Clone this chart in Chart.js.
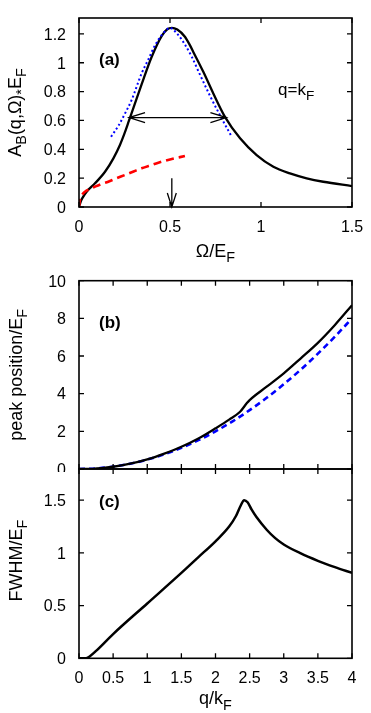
<!DOCTYPE html>
<html><head><meta charset="utf-8">
<script src="https://cdn.jsdelivr.net/npm/chart.js@4.4.0/dist/chart.umd.min.js"></script>
<style>
html,body{margin:0;padding:0;background:#fff;}
#wrap{position:relative;width:371px;height:713px;overflow:hidden;background:#fff;}
canvas{position:absolute;left:0;}
</style></head><body>
<div id="wrap">
<canvas id="ca" style="top:0px;width:371px;height:262px" width="371" height="262"></canvas>
<canvas id="cb" style="top:262px;width:371px;height:210px" width="371" height="210"></canvas>
<canvas id="cc" style="top:462px;width:371px;height:251px" width="371" height="251"></canvas>
</div>
<script>
// ---------- Panel (a): spectral function at q = kF ----------
const omegaA    = [0,0.01,0.02,0.042,0.088,0.143,0.189,0.225,0.25,0.275,0.30,0.344,0.399,0.454,0.485,0.51,0.54,0.582,0.61,0.628,0.683,0.738,0.802,0.885,0.976,1.068,1.159,1.251,1.342,1.5];
const spectralA = [0,0.04,0.065,0.106,0.164,0.244,0.337,0.43,0.51,0.60,0.69,0.85,1.04,1.185,1.232,1.242,1.23,1.18,1.12,1.075,0.937,0.787,0.625,0.476,0.360,0.279,0.233,0.199,0.175,0.145];
const omegaFit  = [0.176,0.22,0.253,0.289,0.344,0.38,0.418,0.46,0.5,0.54,0.58,0.62,0.66,0.72,0.784,0.839];
const fitA      = [0.487,0.57,0.649,0.741,0.926,1.02,1.122,1.2,1.242,1.2,1.13,1.04,0.93,0.77,0.614,0.487];
const omegaRed  = [0,0.005,0.015,0.033,0.06,0.088,0.125,0.161,0.2,0.253,0.3,0.344,0.39,0.436,0.5,0.582];
const redA      = [0,0.05,0.08,0.106,0.125,0.141,0.16,0.175,0.196,0.222,0.246,0.268,0.288,0.307,0.33,0.353];
const halfMaxLevel  = 0.62;
const halfMaxBounds = [0.275, 0.81];
const peakMarker    = [0.51, 0.2];   // x position, top of arrow
const xTicksA = [0,0.5,1,1.5];
const xLabelsA = ['0','0.5','1','1.5'];
const yTicksA = [0,0.2,0.4,0.6,0.8,1,1.2];
const yLabelsA = ['0','0.2','0.4','0.6','0.8','1','1.2'];

// ---------- Panel (b): peak position ----------
const qPeak    = [0,0.2,0.5,0.75,1,1.25,1.5,1.75,2,2.2,2.36,2.46,2.5,2.75,3,3.25,3.5,3.75,4];
const peakPos  = [0,0.01,0.12,0.28,0.51,0.82,1.18,1.62,2.16,2.62,3.04,3.5,3.66,4.37,5.08,5.88,6.7,7.65,8.7];
const qModel   = [0,0.25,0.5,0.75,1,1.25,1.5,1.75,2,2.25,2.5,2.75,3,3.25,3.5,3.75,4];
const modelPos = [0,0.03,0.125,0.28,0.5,0.78,1.125,1.53,2,2.53,3.125,3.78,4.5,5.28,6.125,7.03,8];
const xTicksQ = [0,0.5,1,1.5,2,2.5,3,3.5,4];
const xLabelsQ = ['0','0.5','1','1.5','2','2.5','3','3.5','4'];
const yTicksB = [0,2,4,6,8,10];
const yLabelsB = ['0','2','4','6','8','10'];

// ---------- Panel (c): FWHM ----------
const qFwhm = [0,0.1,0.16,0.25,0.5,1,1.5,1.75,2,2.2,2.3,2.37,2.42,2.47,2.53,2.6,2.75,2.875,3,3.25,3.5,3.75,4];
const fwhm  = [0,0,0.02,0.07,0.23,0.52,0.81,0.96,1.11,1.25,1.35,1.45,1.5,1.48,1.41,1.34,1.22,1.14,1.08,0.995,0.925,0.865,0.81];
const yTicksC = [0,0.5,1,1.5];
const yLabelsC = ['0','0.5','1','1.5'];

const FONT = '"Liberation Sans", Arial, Helvetica, sans-serif';
const pts = (xs, ys) => xs.map((x, i) => ({x, y: ys[i]}));

function setFont(ctx, size, bold){ ctx.font = (bold ? 'bold ' : '') + size + 'px ' + FONT; }
function richWidth(ctx, parts, size){
  let w = 0;
  parts.forEach(p => { setFont(ctx, p[1]==='sub' ? size*0.8 : size, p[1]==='b'); w += ctx.measureText(p[0]).width; });
  return w;
}
function drawRich(ctx, parts, x, y, size, align){
  const w = richWidth(ctx, parts, size);
  let cx = align === 'center' ? x - w/2 : (align === 'right' ? x - w : x);
  ctx.textAlign = 'left'; ctx.textBaseline = 'alphabetic'; ctx.fillStyle = '#000';
  parts.forEach(p => {
    const sub = p[1] === 'sub';
    setFont(ctx, sub ? size*0.8 : size, p[1]==='b');
    ctx.fillText(p[0], cx, y + (sub ? size*0.3 : 0));
    cx += ctx.measureText(p[0]).width;
  });
}
function openHead(ctx, tx, ty, dx, dy, len, half){
  const nx = -dy, ny = dx;
  ctx.moveTo(tx - dx*len + nx*half, ty - dy*len + ny*half);
  ctx.lineTo(tx, ty);
  ctx.lineTo(tx - dx*len - nx*half, ty - dy*len - ny*half);
}

const deco = {
  id: 'deco',
  afterDatasetsDraw(chart, args, o) {
    const ctx = chart.ctx, a = chart.chartArea;
    const xs = chart.scales.x, ys = chart.scales.y;
    const TL = 5;
    ctx.save();
    ctx.strokeStyle = '#000';
    if (o.arrows) {
      ctx.lineWidth = 1.3;
      ctx.beginPath();
      const yh = ys.getPixelForValue(halfMaxLevel);
      const x1 = xs.getPixelForValue(halfMaxBounds[0]), x2 = xs.getPixelForValue(halfMaxBounds[1]);
      ctx.moveTo(x1, yh); ctx.lineTo(x2, yh);
      openHead(ctx, x1, yh, -1, 0, 16, 5);
      openHead(ctx, x2, yh, 1, 0, 16, 5);
      const xp = xs.getPixelForValue(peakMarker[0]);
      const yt = ys.getPixelForValue(peakMarker[1]), yb = ys.getPixelForValue(0);
      ctx.moveTo(xp, yt); ctx.lineTo(xp, yb);
      openHead(ctx, xp, yb, 0, 1, 14, 4.5);
      ctx.stroke();
    }
    ctx.lineWidth = 1.3;
    ctx.beginPath();
    o.xTicks.forEach(v => { const p = xs.getPixelForValue(v);
      ctx.moveTo(p, a.bottom); ctx.lineTo(p, a.bottom - TL);
      ctx.moveTo(p, a.top); ctx.lineTo(p, a.top + TL); });
    o.yTicks.forEach(v => { const p = ys.getPixelForValue(v);
      ctx.moveTo(a.left, p); ctx.lineTo(a.left + TL, p);
      ctx.moveTo(a.right, p); ctx.lineTo(a.right - TL, p); });
    ctx.stroke();
    ctx.lineWidth = 1.6;
    ctx.strokeRect(a.left, a.top, a.right - a.left, a.bottom - a.top);
    ctx.fillStyle = '#000';
    setFont(ctx, 16);
    ctx.textBaseline = 'alphabetic';
    ctx.textAlign = 'right';
    o.yTicks.forEach((v, i) => ctx.fillText(o.yLabels[i], a.left - 13, ys.getPixelForValue(v) + 5.8));
    if (o.xLabels) {
      ctx.textAlign = 'center';
      o.xTicks.forEach((v, i) => ctx.fillText(o.xLabels[i], xs.getPixelForValue(v), a.bottom + o.xLabelDy));
    }
    if (o.xTitle) drawRich(ctx, o.xTitle, (a.left + a.right)/2, a.bottom + o.xTitleDy, 18, 'center');
    ctx.save();
    ctx.translate(o.yTitleX, (a.top + a.bottom)/2 + (o.yTitleDy || 0));
    ctx.rotate(-Math.PI/2);
    drawRich(ctx, o.yTitle, 0, 6.5, 18, 'center');
    ctx.restore();
    drawRich(ctx, [[o.panel, 'b']], a.left + 20, a.top + o.panelDy, 17, 'left');
    if (o.note) drawRich(ctx, o.note, a.left + 199, a.top + 77, 17, 'left');
    ctx.restore();
  }
};

function make(id, datasets, xr, yr, padding, d){
  return new Chart(document.getElementById(id), {
    type: 'line',
    data: { datasets },
    options: {
      responsive: false, animation: false, events: [],
      devicePixelRatio: 1,
      layout: { padding },
      scales: {
        x: { type: 'linear', min: xr[0], max: xr[1], display: false },
        y: { type: 'linear', min: yr[0], max: yr[1], display: false }
      },
      plugins: { legend: { display: false }, tooltip: { enabled: false }, deco: d },
      elements: { point: { radius: 0 }, line: { cubicInterpolationMode: 'monotone', fill: false } }
    },
    plugins: [deco]
  });
}

make('ca', [
  { data: pts(omegaFit, fitA), borderColor: '#0000ff', borderWidth: 2, borderDash: [2, 2.5] },
  { data: pts(omegaRed, redA), borderColor: '#ff0000', borderWidth: 2.6, borderDash: [8, 5] },
  { data: pts(omegaA, spectralA), borderColor: '#000', borderWidth: 2.3 }
], [0, 1.5], [0, 1.31], {left: 79, right: 19, top: 18, bottom: 55}, {
  xTicks: xTicksA, xLabels: xLabelsA, yTicks: yTicksA, yLabels: yLabelsA, xLabelDy: 24.5,
  xTitle: [['Ω/E'], ['F', 'sub']], xTitleDy: 50,
  yTitle: [['A'], ['B', 'sub'], ['(q,Ω)'], ['*', 'sub'], ['E'], ['F', 'sub']], yTitleX: 14,
  panel: '(a)', panelDy: 47, arrows: true,
  note: [['q=k'], ['F', 'sub']]
});

make('cb', [
  { data: pts(qPeak, peakPos), borderColor: '#000', borderWidth: 2.3 },
  { data: pts(qModel, modelPos), borderColor: '#0000ff', borderWidth: 2.6, borderDash: [6, 4] }
], [0, 4], [0, 10], {left: 79, right: 19, top: 18.7, bottom: 3}, {
  xTicks: xTicksQ, yTicks: yTicksB, yLabels: yLabelsB,
  yTitle: [['peak position/E'], ['F', 'sub']], yTitleX: 15,
  panel: '(b)', panelDy: 47
});

make('cc', [
  { data: pts(qFwhm, fwhm), borderColor: '#000', borderWidth: 2.5 }
], [0, 4], [0, 1.796], {left: 79, right: 19, top: 7, bottom: 54.7}, {
  xTicks: xTicksQ, xLabels: xLabelsQ, yTicks: yTicksC, yLabels: yLabelsC, xLabelDy: 25,
  xTitle: [['q/k'], ['F', 'sub']], xTitleDy: 46,
  yTitle: [['FWHM/E'], ['F', 'sub']], yTitleX: 15, yTitleDy: -3,
  panel: '(c)', panelDy: 38
});
</script>
</body></html>
